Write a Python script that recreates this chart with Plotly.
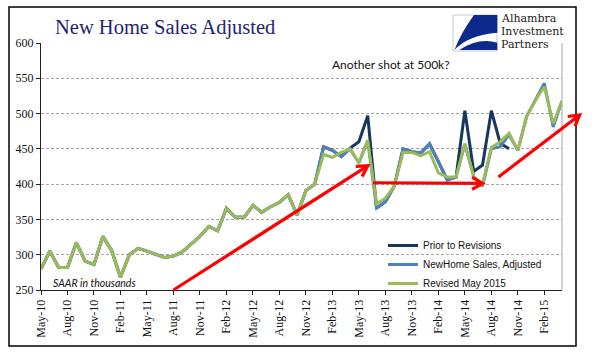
import math
import plotly.graph_objects as go

# ---------------- data ----------------
months = [
    "May-10", "Jun-10", "Jul-10", "Aug-10", "Sep-10", "Oct-10", "Nov-10", "Dec-10",
    "Jan-11", "Feb-11", "Mar-11", "Apr-11", "May-11", "Jun-11", "Jul-11", "Aug-11",
    "Sep-11", "Oct-11", "Nov-11", "Dec-11", "Jan-12", "Feb-12", "Mar-12", "Apr-12",
    "May-12", "Jun-12", "Jul-12", "Aug-12", "Sep-12", "Oct-12", "Nov-12", "Dec-12",
    "Jan-13", "Feb-13", "Mar-13", "Apr-13", "May-13", "Jun-13", "Jul-13", "Aug-13",
    "Sep-13", "Oct-13", "Nov-13", "Dec-13", "Jan-14", "Feb-14", "Mar-14", "Apr-14",
    "May-14", "Jun-14", "Jul-14", "Aug-14", "Sep-14", "Oct-14", "Nov-14", "Dec-14",
    "Jan-15", "Feb-15", "Mar-15", "Apr-15",
]

tick_labels = [
    "May-10", "Aug-10", "Nov-10", "Feb-11", "May-11", "Aug-11", "Nov-11",
    "Feb-12", "May-12", "Aug-12", "Nov-12", "Feb-13", "May-13", "Aug-13",
    "Nov-13", "Feb-14", "May-14", "Aug-14", "Nov-14", "Feb-15",
]

revised_may_2015 = [
    280, 305, 282, 282, 317, 291, 286, 326, 306, 268, 300, 309,
    305, 301, 296, 298, 304, 315, 326, 340, 334, 366, 353, 353,
    370, 360, 368, 374, 385, 356, 391, 400, 442, 438, 445, 450,
    430, 462, 372, 380, 397, 445, 445, 440, 446, 416, 410, 410,
    457, 411, 400, 452, 460, 472, 448, 496, 519, 538, 486, 518,
]

new_home_sales_adjusted = [
    280, 305, 282, 282, 317, 291, 286, 326, 306, 268, 300, 309,
    305, 301, 296, 298, 304, 315, 326, 340, 334, 366, 353, 353,
    370, 360, 368, 374, 385, 356, 391, 400, 453, 448, 439, 450,
    430, 462, 366, 375, 397, 450, 446, 444, 457, 432, 406, 410,
    457, 411, 397, 450, 453, 470, 448, 496, 519, 543, 481, 518,
]

prior_to_revisions = [
    280, 305, 282, 282, 317, 291, 286, 326, 306, 268, 300, 309,
    305, 301, 296, 298, 304, 315, 326, 340, 334, 366, 353, 353,
    370, 360, 368, 374, 385, 356, 391, 400, 453, 448, 439, 451,
    460, 497, 366, 375, 397, 450, 446, 444, 457, 432, 406, 410,
    504, 418, 427, 504, 458, 450,
]

y_min, y_max = 250, 600

# ---------------- layout geometry (pixels) ----------------
FIG_W, FIG_H = 596, 361
PL, PR, PT, PB = 41, 34, 43, 71
PW = FIG_W - PL - PR
PH = FIG_H - PT - PB
N_IDX = len(months) - 1


def px2paper(px, py):
    return (px - PL) / PW, (FIG_H - PB - py) / PH


def data2paper(i, v):
    return i / N_IDX, (v - y_min) / (y_max - y_min)


fig = go.Figure()

fig.add_trace(go.Scatter(
    x=months[:len(prior_to_revisions)], y=prior_to_revisions, mode="lines",
    name="Prior to Revisions", line=dict(color="#17375E", width=3)))
fig.add_trace(go.Scatter(
    x=months, y=new_home_sales_adjusted, mode="lines",
    name="NewHome Sales, Adjusted", line=dict(color="#4F81BD", width=3)))
fig.add_trace(go.Scatter(
    x=months, y=revised_may_2015, mode="lines",
    name="Revised May 2015", line=dict(color="#9BBB59", width=3)))

shapes = []
annotations = []

# outer frame
fx0, fy0 = px2paper(9, 346)
fx1, fy1 = px2paper(576, 7)
shapes.append(dict(type="rect", xref="paper", yref="paper", x0=fx0, y0=fy0, x1=fx1, y1=fy1,
                   line=dict(color="black", width=1.5), layer="below"))
# plot area right border
shapes.append(dict(type="line", xref="paper", yref="paper", x0=1, x1=1, y0=0, y1=1,
                   line=dict(color="#A6A6A6", width=1)))


# red arrows (start index, start value, tip index, tip value)
arrows = [
    (15, 250, 37, 426),
    (37.6, 402, 50, 401),
    (51.8, 410, 61.0, 498),
]
for (i0, v0, i1, v1) in arrows:
    x0, y0 = data2paper(i0, v0)
    x1, y1 = data2paper(i1, v1)
    shapes.append(dict(type="line", xref="paper", yref="paper", x0=x0, y0=y0, x1=x1, y1=y1,
                       line=dict(color="#FF0000", width=3.2)))
    dxp = (x1 - x0) * PW
    dyp = (y1 - y0) * PH
    n = math.hypot(dxp, dyp)
    ux, uy = dxp / n, dyp / n
    L = 12
    pts = []
    for a in (math.radians(30), -math.radians(30)):
        bx = -(ux * math.cos(a) - uy * math.sin(a)) * L
        by = -(ux * math.sin(a) + uy * math.cos(a)) * L
        pts.append((x1 + bx / PW, y1 + by / PH))
    path = "M{:.5f},{:.5f} L{:.5f},{:.5f} L{:.5f},{:.5f}".format(
        pts[0][0], pts[0][1], x1, y1, pts[1][0], pts[1][1])
    shapes.append(dict(type="path", xref="paper", yref="paper", path=path,
                       line=dict(color="#FF0000", width=3.2)))

# logo box
lx0, ly0 = px2paper(453, 51)
lx1, ly1 = px2paper(497, 15)
shapes.append(dict(type="rect", xref="paper", yref="paper", x0=lx0, y0=ly0, x1=lx1, y1=ly1,
                   line=dict(color="#C8C8C8", width=1), fillcolor="white"))


def zpath(cmds):
    out = []
    for c in cmds:
        if isinstance(c, str):
            out.append(c)
        else:
            zx, zy = c
            px_, py_ = px2paper(400 + zx / 3, zy / 3)
            out.append("{:.5f},{:.5f}".format(px_, py_))
    return " ".join(out)


blue_top = zpath(["M", (292, 45), "L", (222, 45), "Q", (185, 95), "", (163, 150),
                  "Q", (205, 105), "", (292, 98), "Z"])
blue_bot = zpath(["M", (178, 150), "Q", (235, 112), "", (292, 128), "L", (292, 150), "Z"])
for p in (blue_top, blue_bot):
    shapes.append(dict(type="path", xref="paper", yref="paper", path=p,
                       fillcolor="#0B2A8C", line=dict(width=0)))

# texts
tx, ty = px2paper(165, 28)
annotations.append(dict(xref="paper", yref="paper", x=tx, y=ty, xanchor="center", yanchor="middle",
                        text="New Home Sales Adjusted", showarrow=False,
                        font=dict(family="Liberation Serif", size=20.5, color="#1F1F78")))
for txt, yy in (("Alhambra", 19), ("Investment", 32), ("Partners", 45)):
    ax_, ay_ = px2paper(500, yy)
    annotations.append(dict(xref="paper", yref="paper", x=ax_, y=ay_, xanchor="left", yanchor="middle",
                            text=txt, showarrow=False, borderpad=0,
                            font=dict(family="DejaVu Serif", size=11, color="#1A1A1A")))
ax_, ay_ = px2paper(330, 64)
annotations.append(dict(xref="paper", yref="paper", x=ax_, y=ay_, xanchor="left", yanchor="middle",
                        text="Another shot at 500k?", showarrow=False,
                        font=dict(family="Lato", size=12, color="#111111")))
ax_, ay_ = px2paper(51, 283)
annotations.append(dict(xref="paper", yref="paper", x=ax_, y=ay_, xanchor="left", yanchor="middle",
                        text="<i>SAAR in thousands</i>", showarrow=False,
                        font=dict(family="Lato", size=10.5, color="#111111")))

lgx, lgy = px2paper(383, 231)

fig.update_layout(
    width=FIG_W, height=FIG_H, autosize=False,
    margin=dict(l=PL, r=PR, t=PT, b=PB, pad=0),
    paper_bgcolor="white", plot_bgcolor="white",
    showlegend=True,
    legend=dict(x=lgx, y=lgy, xanchor="left", yanchor="top", bgcolor="rgba(0,0,0,0)",
                font=dict(family="Liberation Sans", size=10, color="#111111"),
                borderwidth=0, tracegroupgap=0),
    shapes=shapes, annotations=annotations,
    xaxis=dict(type="category", categoryorder="array", categoryarray=months,
               range=[0, N_IDX], tickmode="array", tickvals=tick_labels, ticktext=tick_labels,
               tickangle=-90, ticks="outside", ticklen=4, tickcolor="#222222",
               showline=True, linecolor="#222222", linewidth=1, showgrid=False,
               tickfont=dict(family="Liberation Serif", size=12, color="#111111"),
               automargin=False, fixedrange=True),
    yaxis=dict(range=[y_min, y_max], dtick=50, tick0=250, ticks="outside", ticklen=4,
               tickcolor="#222222", showline=True, linecolor="#222222", linewidth=1,
               showgrid=True, gridcolor="#A6A6A6", griddash="3px,2px", gridwidth=1,
               zeroline=False,
               tickfont=dict(family="Liberation Serif", size=12, color="#111111"),
               automargin=False, fixedrange=True),
)

fig.write_html("out.html", config={"displayModeBar": False},
               post_script="document.body.style.margin='0px';")
